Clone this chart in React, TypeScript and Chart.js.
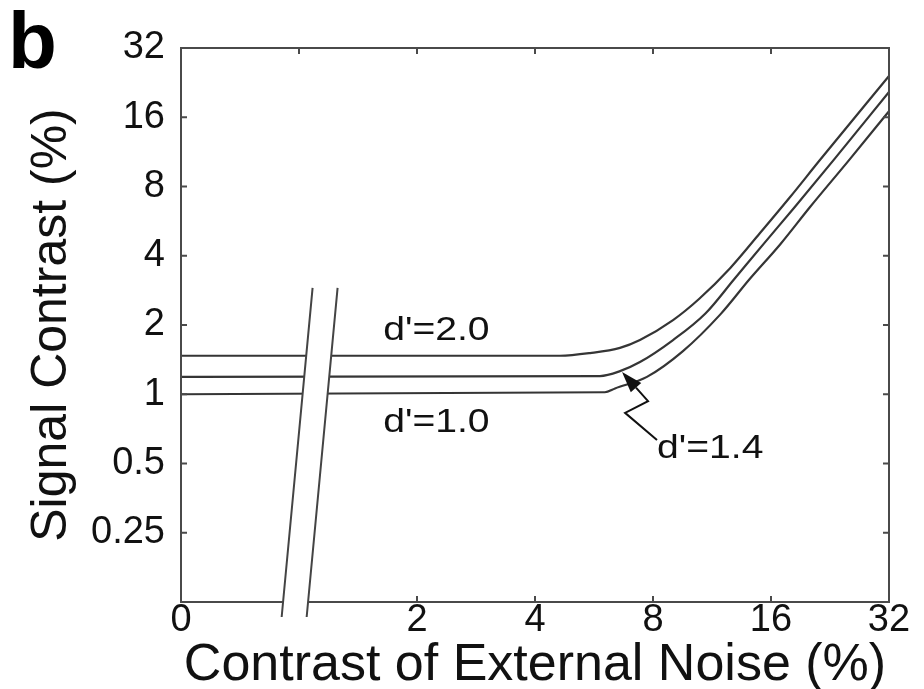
import { useEffect, useRef } from "react";
import { Chart, registerables } from "chart.js";

Chart.register(...registerables);

// Axis ticks (external noise axis is log2, its leftmost tick stands for zero noise)
const noiseTicks = [0.5, 2, 4, 8, 16, 32];
const noiseTickLabels = ["0", "2", "4", "8", "16", "32"];
const noiseTopMarks = [1, 2, 4, 8, 16];
const noiseBottomMarks = [2, 4, 8, 16];
const signalTicks = [0.25, 0.5, 1, 2, 4, 8, 16, 32];
const signalTickLabels = ["0.25", "0.5", "1", "2", "4", "8", "16", "32"];

// Threshold vs. noise curves, one per criterion d'
const noiseD20 = [0.5, 4.63, 5.53, 6.59, 7.41, 9.0, 10.5, 12.6, 15.0, 17.9, 21.3, 32];
const thresholdD20 = [1.47, 1.47, 1.51, 1.59, 1.72, 2.1, 2.6, 3.54, 5.02, 7.2, 10.4, 24.2];
const noiseD14 = [0.5, 5.86, 6.59, 7.41, 9.0, 10.9, 12.9, 15.4, 18.4, 23.3, 32];
const thresholdD14 = [1.19, 1.2, 1.26, 1.38, 1.72, 2.25, 3.17, 4.55, 6.52, 10.6, 20.6];
const noiseD10 = [0.5, 6.03, 6.4, 7.72, 9.54, 11.9, 14.1, 16.9, 20.1, 25.4, 32];
const thresholdD10 = [1.0, 1.02, 1.06, 1.19, 1.54, 2.23, 3.16, 4.49, 6.5, 10.5, 17.0];

const curveLabels = ["d'=2.0", "d'=1.4", "d'=1.0"];

const toPoints = (xs: number[], ys: number[]) => xs.map((x, i) => ({ x, y: ys[i] }));

const INK = "#353535";
const FONT = "'Liberation Sans', Arial, Helvetica, sans-serif";

// Axis break: centred on this noise value at the baseline, reaching up to this signal value
const BREAK_AT = 0.98;
const BREAK_TOP = 2.9;
const BREAK_LEAN = 0.094;
const BREAK_HALF = 12.5;

// Frame with inward ticks, axis break, curve labels and the d'=1.4 pointer
const decorations = {
  id: "decorations",
  afterDatasetsDraw(chart: any) {
    const { ctx, chartArea: a, scales } = chart;
    const xs = scales.x;
    const ys = scales.y;
    const px = (v: number) => xs.getPixelForValue(v);
    const py = (v: number) => ys.getPixelForValue(v);
    const bx = px(BREAK_AT);
    const yTop = py(BREAK_TOP);
    const yBot = a.bottom + 15;
    const lx = (y: number, side: number) => bx + side * BREAK_HALF + (a.bottom - y) * BREAK_LEAN;

    ctx.save();
    ctx.strokeStyle = "#4a4a4a";
    ctx.lineWidth = 2;
    ctx.strokeRect(a.left, a.top, a.right - a.left, a.bottom - a.top);
    const tl = 6;
    ctx.beginPath();
    for (const v of noiseBottomMarks) {
      ctx.moveTo(px(v), a.bottom);
      ctx.lineTo(px(v), a.bottom - tl);
    }
    for (const v of noiseTopMarks) {
      ctx.moveTo(px(v), a.top);
      ctx.lineTo(px(v), a.top + tl);
    }
    for (const v of signalTicks) {
      ctx.moveTo(a.left, py(v));
      ctx.lineTo(a.left + tl, py(v));
      ctx.moveTo(a.right, py(v));
      ctx.lineTo(a.right - tl, py(v));
    }
    ctx.stroke();

    // blank the gap of the axis break (sheared rectangle)
    ctx.save();
    ctx.translate(bx, a.bottom);
    ctx.transform(1, 0, -BREAK_LEAN, 1, 0, 0);
    ctx.fillStyle = "#ffffff";
    ctx.fillRect(-BREAK_HALF, yTop - a.bottom, 2 * BREAK_HALF, yBot - yTop);
    ctx.restore();

    // the two slanted break strokes
    ctx.strokeStyle = "#444";
    ctx.lineWidth = 2;
    ctx.beginPath();
    for (const s of [-1, 1]) {
      ctx.moveTo(lx(yTop, s), yTop);
      ctx.lineTo(lx(yBot, s), yBot);
    }
    ctx.stroke();

    // curve labels
    ctx.fillStyle = "#111";
    ctx.font = `34px ${FONT}`;
    ctx.textBaseline = "alphabetic";
    ctx.textAlign = "left";
    const put = (text: string, x: number, y: number) => {
      ctx.save();
      ctx.translate(px(x), py(y));
      ctx.scale(1.15, 1);
      ctx.fillText(text, 0, 0);
      ctx.restore();
    };
    put(curveLabels[0], 1.64, 1.72);
    put(curveLabels[2], 1.64, 0.685);
    put(curveLabels[1], 8.19, 0.528);

    // zig-zag pointer to the d'=1.4 curve
    const path = [
      [8.19, 0.633],
      [6.79, 0.83],
      [7.77, 0.933],
      [6.67, 1.25],
    ].map(([x, y]) => [px(x), py(y)]);
    ctx.strokeStyle = "#111";
    ctx.lineWidth = 2;
    ctx.beginPath();
    ctx.moveTo(path[0][0], path[0][1]);
    for (let i = 1; i < path.length - 1; i++) ctx.lineTo(path[i][0], path[i][1]);
    const [tx, ty] = path[path.length - 1];
    const [sx, sy] = path[path.length - 2];
    const dx = tx - sx;
    const dy = ty - sy;
    const len = Math.hypot(dx, dy);
    const ux = dx / len;
    const uy = dy / len;
    const head = 21;
    const hx = tx - ux * head;
    const hy = ty - uy * head;
    ctx.lineTo(hx, hy);
    ctx.stroke();
    ctx.fillStyle = "#111";
    ctx.beginPath();
    ctx.moveTo(tx, ty);
    ctx.lineTo(hx - uy * 7, hy + ux * 7);
    ctx.lineTo(hx + uy * 7, hy - ux * 7);
    ctx.closePath();
    ctx.fill();

    // panel letter
    ctx.fillStyle = "#000";
    ctx.font = `bold 80px ${FONT}`;
    ctx.fillText("b", 8, 68);

    ctx.restore();
  },
};

export default function App() {
  const canvasRef = useRef<HTMLCanvasElement | null>(null);

  useEffect(() => {
    const canvas = canvasRef.current;
    if (!canvas) return;
    const line = (data: { x: number; y: number }[]) => ({
      data,
      borderColor: INK,
      borderWidth: 2.2,
      pointRadius: 0,
      fill: false,
      cubicInterpolationMode: "monotone" as const,
    });
    const chart = new Chart(canvas, {
      type: "line",
      data: {
        datasets: [
          { label: curveLabels[0], ...line(toPoints(noiseD20, thresholdD20)) },
          { label: curveLabels[1], ...line(toPoints(noiseD14, thresholdD14)) },
          { label: curveLabels[2], ...line(toPoints(noiseD10, thresholdD10)) },
        ],
      },
      options: {
        responsive: false,
        animation: false,
        layout: { padding: { left: 0, top: 48, right: 35, bottom: 0 } },
        plugins: { legend: { display: false }, tooltip: { enabled: false } },
        scales: {
          x: {
            type: "logarithmic",
            min: 0.5,
            max: 32,
            grid: { display: false, drawTicks: false },
            border: { display: false },
            afterBuildTicks: (axis: any) => {
              axis.ticks = noiseTicks.map((value) => ({ value }));
            },
            afterFit: (axis: any) => {
              axis.height = 87;
            },
            ticks: {
              autoSkip: false,
              maxRotation: 0,
              padding: 0,
              color: "#111",
              font: { family: FONT, size: 38, lineHeight: 1 },
              callback: (value: any) => noiseTickLabels[noiseTicks.indexOf(Number(value))],
            },
            title: {
              display: true,
              text: "Contrast of External Noise (%)",
              color: "#111",
              font: { family: FONT, size: 52, lineHeight: 1 },
              padding: { top: 0, bottom: -3 },
            },
          },
          y: {
            type: "logarithmic",
            min: 0.125,
            max: 32,
            grid: { display: false, drawTicks: false },
            border: { display: false },
            afterBuildTicks: (axis: any) => {
              axis.ticks = signalTicks.map((value) => ({ value }));
            },
            afterFit: (axis: any) => {
              axis.width = 181;
            },
            ticks: {
              autoSkip: false,
              padding: 16,
              color: "#111",
              font: { family: FONT, size: 38, lineHeight: 1 },
              callback: (value: any) => signalTickLabels[signalTicks.indexOf(Number(value))],
            },
            title: {
              display: true,
              text: "Signal Contrast (%)",
              color: "#111",
              font: { family: FONT, size: 50, lineHeight: 1 },
              padding: { top: 27, bottom: 0 },
            },
          },
        },
      },
      plugins: [decorations],
    });
    return () => chart.destroy();
  }, []);

  return (
    <canvas
      ref={canvasRef}
      width={924}
      height={689}
      style={{ position: "absolute", left: 0, top: 0, display: "block", background: "#fff" }}
    />
  );
}
